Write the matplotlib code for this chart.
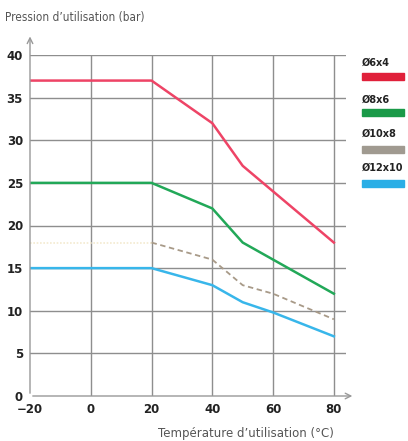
import matplotlib
matplotlib.use("Agg")
import matplotlib.pyplot as plt

temps = [-20, 20, 40, 50, 60, 80]
s6x4 = [37, 37, 32, 27, 24, 18]
s8x6 = [25, 25, 22, 18, 16, 12]
s10x8 = [18, 18, 16, 13, 12, 9]
s12x10 = [15, 15, 13, 11, 9.8, 7]
labels = ["Ø6x4", "Ø8x6", "Ø10x8", "Ø12x10"]
colors = ["#ee4466", "#22a858", "#a8a095", "#38b6ea"]
swatch = ["#e0203a", "#1a9a48", "#a09a90", "#2aaee6"]
xticks = [-20, 0, 20, 40, 60, 80]
yticks = [0, 5, 10, 15, 20, 25, 30, 35, 40]

fig = plt.figure(figsize=(4.08, 4.41), dpi=100)
ax = fig.add_axes([30/408, 1-396/441, (346-30)/408, (396-55)/441])
ax.set_xlim(-20, 84)
ax.set_ylim(0, 40)
for s in ax.spines.values():
    s.set_visible(False)

for y in yticks[1:]:
    ax.plot([-20, 84], [y, y], color="#8e8e8e", lw=1, zorder=1)
for x in xticks[1:]:
    ax.plot([x, x], [0, 40], color="#8e8e8e", lw=1, zorder=1)

ax.plot(temps, s6x4, color=colors[0], lw=1.8, zorder=3)
ax.plot(temps, s8x6, color=colors[1], lw=1.8, zorder=3)
ax.plot(temps[:2], s10x8[:2], color="#f3ead0", lw=1.2, ls=(0, (1, 1)), zorder=3)
ax.plot(temps[1:], s10x8[1:], color="#a89a88", lw=1.3, ls=(0, (3, 2)), zorder=3)
ax.plot(temps, s12x10, color=colors[3], lw=1.8, zorder=3)

# axes with arrows
ax.annotate("", xy=(87, 0), xytext=(-20, 0), xycoords="data",
            arrowprops=dict(arrowstyle="->", color="#999999", lw=1), annotation_clip=False)
ax.annotate("", xy=(-20, 42.5), xytext=(-20, 0), xycoords="data",
            arrowprops=dict(arrowstyle="->", color="#999999", lw=1), annotation_clip=False)

ax.set_xticks(xticks)
ax.set_yticks(yticks)
ax.tick_params(length=0, labelsize=8.5, pad=5, colors="#222222")
for t in ax.get_xticklabels() + ax.get_yticklabels():
    t.set_fontweight("bold")

fig.text(5/408, 1-18/441, "Pression d’utilisation (bar)", fontsize=8.5, color="#555555",
         va="center", ha="left", fontstretch="condensed")
fig.text(334/408, 1-433/441, "Température d’utilisation (°C)", fontsize=8.5, color="#555555",
         va="center", ha="right")

text_y = [63, 100, 134, 168]
sw_top = [73, 109, 146, 180]
for lab, c, ty, st in zip(labels, swatch, text_y, sw_top):
    fig.text(362/408, 1-ty/441, lab, fontsize=7, fontweight="bold", color="#222222",
             va="center", ha="left")
    fig.patches.append(plt.Rectangle((362/408, 1-(st+7)/441), 42/408, 7/441,
                                     transform=fig.transFigure, color=c, figure=fig))

fig.savefig("out.png", dpi=100)
